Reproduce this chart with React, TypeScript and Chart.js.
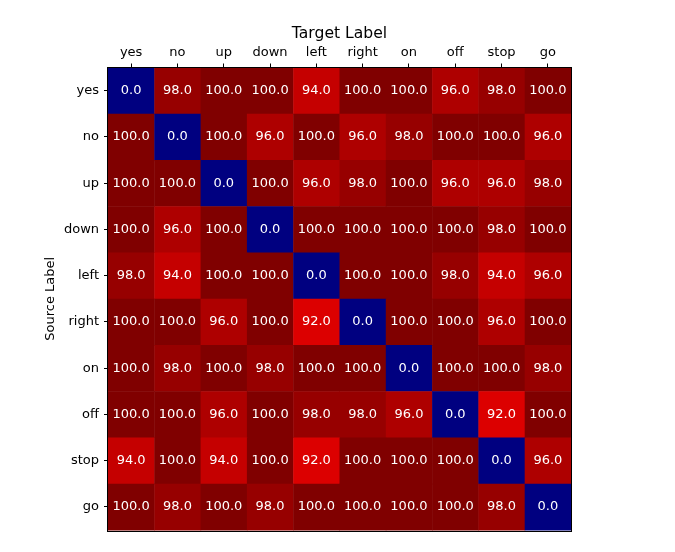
import React, { useEffect, useRef } from "react";
import { Chart, registerables } from "chart.js";

Chart.register(...registerables);

const targetLabels = ["yes", "no", "up", "down", "left", "right", "on", "off", "stop", "go"];
const sourceLabels = ["yes", "no", "up", "down", "left", "right", "on", "off", "stop", "go"];

const rowYes = [0, 98, 100, 100, 94, 100, 100, 96, 98, 100];
const rowNo = [100, 0, 100, 96, 100, 96, 98, 100, 100, 96];
const rowUp = [100, 100, 0, 100, 96, 98, 100, 96, 96, 98];
const rowDown = [100, 96, 100, 0, 100, 100, 100, 100, 98, 100];
const rowLeft = [98, 94, 100, 100, 0, 100, 100, 98, 94, 96];
const rowRight = [100, 100, 96, 100, 92, 0, 100, 100, 96, 100];
const rowOn = [100, 98, 100, 98, 100, 100, 0, 100, 100, 98];
const rowOff = [100, 100, 96, 100, 98, 98, 96, 0, 92, 100];
const rowStop = [94, 100, 94, 100, 92, 100, 100, 100, 0, 96];
const rowGo = [100, 98, 100, 98, 100, 100, 100, 100, 98, 0];

const rows = [rowYes, rowNo, rowUp, rowDown, rowLeft, rowRight, rowOn, rowOff, rowStop, rowGo];

const VMIN = 0;
const VMAX = 100;

function seg(pts: number[][], x: number): number {
  for (let i = 1; i < pts.length; i++) {
    if (x <= pts[i][0]) {
      const [x0, y0] = pts[i - 1];
      const [x1, y1] = pts[i];
      return y0 + ((x - x0) / (x1 - x0 || 1)) * (y1 - y0);
    }
  }
  return pts[pts.length - 1][1];
}

const jetR = [[0, 0], [0.35, 0], [0.66, 1], [0.89, 1], [1, 0.5]];
const jetG = [[0, 0], [0.125, 0], [0.375, 1], [0.64, 1], [0.91, 0], [1, 0]];
const jetB = [[0, 0.5], [0.11, 1], [0.34, 1], [0.65, 0], [1, 0]];

function jet(v: number): string {
  let t = (v - VMIN) / (VMAX - VMIN);
  t = Math.max(0, Math.min(1, t));
  const r = Math.round(seg(jetR, t) * 255);
  const g = Math.round(seg(jetG, t) * 255);
  const b = Math.round(seg(jetB, t) * 255);
  return `rgb(${r},${g},${b})`;
}

const heatPlugin = {
  id: "heat",
  beforeDatasetsDraw(chart: any) {
    const { ctx, scales } = chart;
    const xs = scales.x;
    const ys = scales.y;
    const data = chart.data.datasets[0].data as any[];
    ctx.save();
    for (const d of data) {
      const x0 = xs.getPixelForValue(d.x - 0.5);
      const x1 = xs.getPixelForValue(d.x + 0.5);
      const y0 = ys.getPixelForValue(d.y - 0.5);
      const y1 = ys.getPixelForValue(d.y + 0.5);
      ctx.fillStyle = jet(d.v);
      ctx.fillRect(Math.min(x0, x1), Math.min(y0, y1), Math.abs(x1 - x0) + 0.5, Math.abs(y1 - y0) + 0.5);
    }
    ctx.fillStyle = "#ffffff";
    ctx.font = '13px "DejaVu Sans"';
    ctx.textAlign = "center";
    ctx.textBaseline = "middle";
    for (const d of data) {
      const cx = xs.getPixelForValue(d.x);
      const cy = ys.getPixelForValue(d.y);
      ctx.fillText(d.v.toFixed(1), cx, cy);
    }
    ctx.restore();
  },
  afterDraw(chart: any) {
    const { ctx, chartArea } = chart;
    ctx.save();
    ctx.strokeStyle = "#000000";
    ctx.lineWidth = 1;
    ctx.strokeRect(
      Math.round(chartArea.left) - 0.5,
      Math.round(chartArea.top) - 0.5,
      Math.round(chartArea.right - chartArea.left) + 1,
      Math.round(chartArea.bottom - chartArea.top) + 1
    );
    ctx.restore();
  },
};

export default function App() {
  const ref = useRef<HTMLCanvasElement | null>(null);

  useEffect(() => {
    if (!ref.current) return;
    Chart.defaults.font.family = '"DejaVu Sans"';
    const points: any[] = [];
    rows.forEach((row, i) => {
      row.forEach((v, j) => {
        points.push({ x: j, y: i, v });
      });
    });
    const chart = new Chart(ref.current, {
      type: "scatter",
      data: {
        datasets: [
          {
            data: points,
            pointRadius: 0,
            pointHoverRadius: 0,
          },
        ],
      },
      options: {
        animation: false,
        responsive: false,
        devicePixelRatio: 1,
        layout: { padding: { left: 0, right: 104, top: 0, bottom: 22 } },
        plugins: { legend: { display: false }, tooltip: { enabled: false } },
        scales: {
          x: {
            type: "linear",
            position: "top",
            min: -0.5,
            max: 9.5,
            afterBuildTicks: (scale: any) => {
              scale.ticks = targetLabels.map((_, i) => ({ value: i }));
            },
            afterFit: (scale: any) => {
              scale.height = 67.5;
            },
            ticks: {
              autoSkip: false,
              maxRotation: 0,
              minRotation: 0,
              padding: 3.5,
              color: "#000000",
              font: { size: 13, family: '"DejaVu Sans"' },
              callback: (v: any) => targetLabels[Math.round(Number(v))] ?? "",
            },
            grid: {
              display: true,
              drawOnChartArea: false,
              drawTicks: true,
              tickLength: 4,
              color: "#000000",
              lineWidth: 1,
            },
            border: { display: false },
            title: {
              display: true,
              text: "Target Label",
              color: "#000000",
              font: { size: 15.6, family: '"DejaVu Sans"' },
              padding: { top: 25, bottom: 0 },
            },
          },
          y: {
            type: "linear",
            position: "left",
            reverse: true,
            min: -0.5,
            max: 9.5,
            afterBuildTicks: (scale: any) => {
              scale.ticks = sourceLabels.map((_, i) => ({ value: i }));
            },
            afterFit: (scale: any) => {
              scale.width = 108;
            },
            ticks: {
              autoSkip: false,
              padding: 5,
              color: "#000000",
              font: { size: 13, family: '"DejaVu Sans"' },
              callback: (v: any) => sourceLabels[Math.round(Number(v))] ?? "",
            },
            grid: {
              display: true,
              drawOnChartArea: false,
              drawTicks: true,
              tickLength: 4,
              color: "#000000",
              lineWidth: 1,
            },
            border: { display: false },
            title: {
              display: true,
              text: "Source Label",
              color: "#000000",
              font: { size: 13, family: '"DejaVu Sans"' },
              padding: { top: 43, bottom: 0 },
            },
          },
        },
      },
      plugins: [heatPlugin],
    });
    return () => chart.destroy();
  }, []);

  return (
    <div style={{ position: "fixed", left: 0, top: 0, width: 675, height: 552, background: "#ffffff" }}>
      <canvas ref={ref} width={675} height={552} style={{ display: "block", width: 675, height: 552 }} />
    </div>
  );
}
